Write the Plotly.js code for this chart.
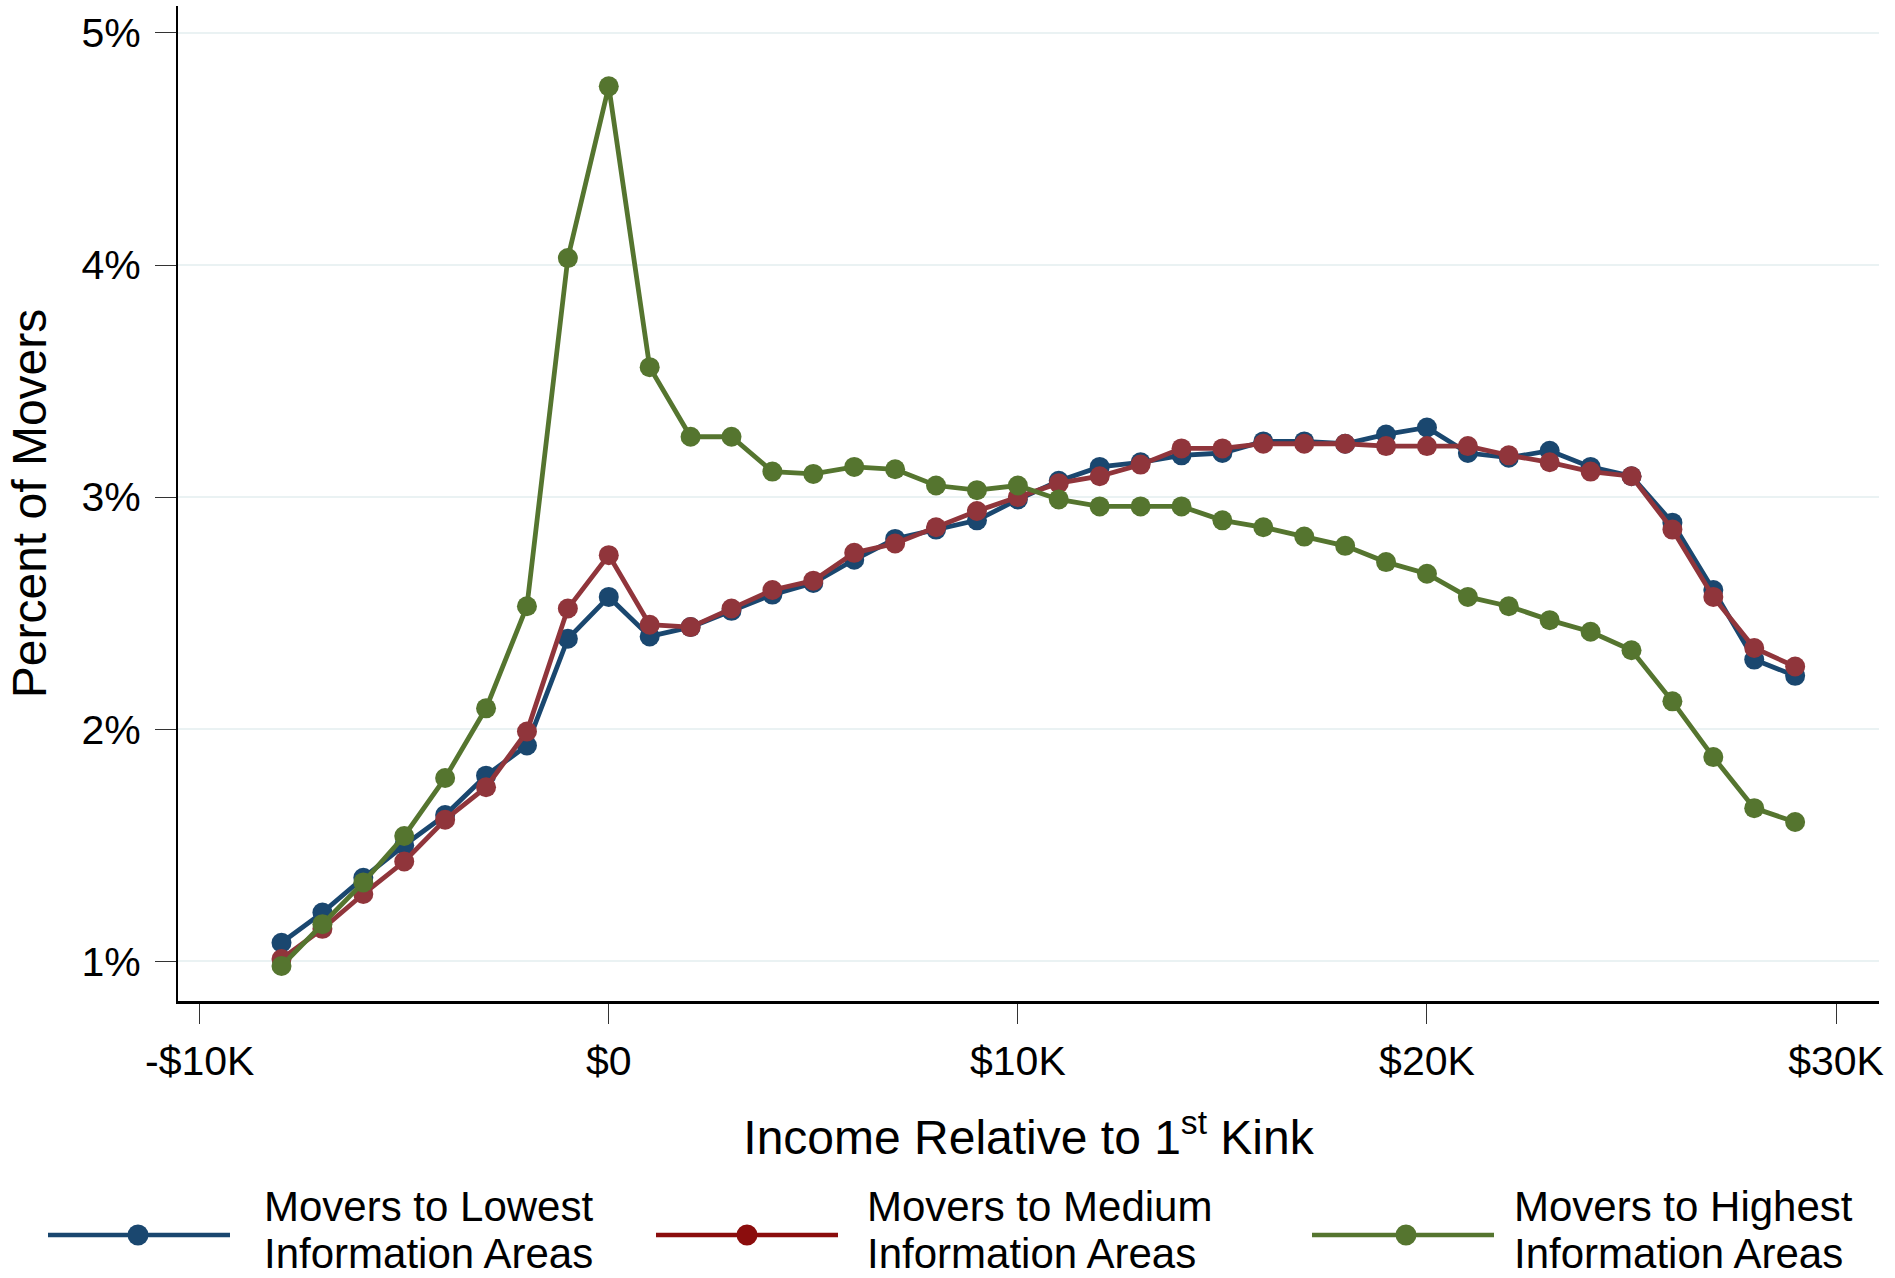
<!DOCTYPE html>
<html>
<head>
<meta charset="utf-8">
<script src="https://cdn.plot.ly/plotly-3.0.1.min.js"></script>
<style>
  html, body { margin: 0; padding: 0; background: #ffffff; }
  #chart { width: 1895px; height: 1278px; }
</style>
</head>
<body>
<div id="chart"></div>
<script>
// ---- data (income relative to 1st kink, in $K; percent of movers) ----
const incomeK = [-8,-7,-6,-5,-4,-3,-2,-1,0,1,2,3,4,5,6,7,8,9,10,11,12,13,14,15,16,17,18,19,20,21,22,23,24,25,26,27,28,29];

const lowest = [1.08,1.21,1.36,1.50,1.63,1.80,1.93,2.39,2.57,2.40,2.44,2.51,2.58,2.63,2.73,2.82,2.86,2.90,2.99,3.07,3.13,3.15,3.18,3.19,3.24,3.24,3.23,3.27,3.30,3.19,3.17,3.20,3.13,3.09,2.89,2.60,2.30,2.23];

const medium = [1.01,1.14,1.29,1.43,1.61,1.75,1.99,2.52,2.75,2.45,2.44,2.52,2.60,2.64,2.76,2.80,2.87,2.94,3.00,3.06,3.09,3.14,3.21,3.21,3.23,3.23,3.23,3.22,3.22,3.22,3.18,3.15,3.11,3.09,2.86,2.57,2.35,2.27];

const highest = [0.98,1.16,1.34,1.54,1.79,2.09,2.53,4.03,4.77,3.56,3.26,3.26,3.11,3.10,3.13,3.12,3.05,3.03,3.05,2.99,2.96,2.96,2.96,2.90,2.87,2.83,2.79,2.72,2.67,2.57,2.53,2.47,2.42,2.34,2.12,1.88,1.66,1.60];

const seriesLine1 = ["Movers to Lowest", "Movers to Medium", "Movers to Highest"];
const seriesLine2 = ["Information Areas", "Information Areas", "Information Areas"];
const xTickVals = [-10, 0, 10, 20, 30];
const xTickText = ["-$10K", "$0", "$10K", "$20K", "$30K"];
const yTickVals = [1, 2, 3, 4, 5];
const yTickText = ["1%", "2%", "3%", "4%", "5%"];

// ---- style ----
const colors = ["#1a476f", "#90353b", "#55752f"];
const legendColors = ["#1a476f", "#8b0d0d", "#55752f"];
const FONT = "'Liberation Sans', Arial, Helvetica, sans-serif";

const W = 1895, H = 1278;
const M = { l: 178, r: 16, t: 6, b: 277 };
const PW = W - M.l - M.r, PH = H - M.t - M.b;
const px2paper = x => (x - M.l) / PW;
const py2paper = y => (H - M.b - y) / PH;

const allSeries = [lowest, medium, highest];
const traces = allSeries.map((ys, i) => ({
  type: "scatter",
  mode: "lines+markers",
  x: incomeK,
  y: ys,
  name: seriesLine1[i] + " " + seriesLine2[i],
  line: { color: colors[i], width: 4.8 },
  marker: { color: colors[i], size: 20, line: { width: 0 } },
  showlegend: false,
  hoverinfo: "x+y"
}));

// ---- manual legend (lines, markers, labels) ----
const legendItems = [
  { x0: 48, x1: 230, xm: 138, tx: 262 },
  { x0: 656, x1: 838, xm: 747, tx: 865 },
  { x0: 1312, x1: 1494, xm: 1406, tx: 1512 }
];
const legY = 1235;
const shapes = [];
const annotations = [];
legendItems.forEach((it, i) => {
  shapes.push({
    type: "line", xref: "paper", yref: "paper",
    x0: px2paper(it.x0), x1: px2paper(it.x1),
    y0: py2paper(legY), y1: py2paper(legY),
    line: { color: legendColors[i], width: 4.5 }
  });
  const r = 10.5;
  shapes.push({
    type: "circle", xref: "paper", yref: "paper",
    x0: px2paper(it.xm - r), x1: px2paper(it.xm + r),
    y0: py2paper(legY + r), y1: py2paper(legY - r),
    fillcolor: legendColors[i], line: { width: 0 }
  });
  annotations.push({
    xref: "paper", yref: "paper",
    x: px2paper(it.tx), y: py2paper(1206),
    xanchor: "left", yanchor: "middle", align: "left",
    showarrow: false,
    text: seriesLine1[i],
    font: { family: FONT, size: 42, color: "#000000" }
  });
  annotations.push({
    xref: "paper", yref: "paper",
    x: px2paper(it.tx), y: py2paper(1253),
    xanchor: "left", yanchor: "middle", align: "left",
    showarrow: false,
    text: seriesLine2[i],
    font: { family: FONT, size: 42, color: "#000000" }
  });
});

const layout = {
  width: W, height: H,
  margin: M,
  paper_bgcolor: "#ffffff",
  plot_bgcolor: "#ffffff",
  font: { family: FONT, color: "#000000" },
  showlegend: false,
  xaxis: {
    range: [-10.53, 31.05],
    tickvals: xTickVals, ticktext: xTickText,
    ticks: "outside", ticklen: 20, tickwidth: 1.2, tickcolor: "#333333",
    tickfont: { family: FONT, size: 41, color: "#000000" },
    ticklabelstandoff: 2,
    showgrid: false, zeroline: false,
    showline: true, linecolor: "#000000", linewidth: 3,
    title: { text: "Income Relative to 1<sup>st</sup> Kink", font: { family: FONT, size: 48, color: "#000000" }, standoff: 38 },
    automargin: false
  },
  yaxis: {
    range: [0.829, 5.116],
    tickvals: yTickVals, ticktext: yTickText,
    ticks: "outside", ticklen: 21, tickwidth: 1.2, tickcolor: "#333333",
    tickfont: { family: FONT, size: 41, color: "#000000" },
    ticklabelstandoff: 6,
    showgrid: true, gridcolor: "#eaf2f3", gridwidth: 1.5,
    zeroline: false,
    showline: true, linecolor: "#000000", linewidth: 2,
    title: { text: "Percent of Movers", font: { family: FONT, size: 48, color: "#000000" }, standoff: 20 },
    automargin: false
  },
  shapes: shapes,
  annotations: annotations
};

Plotly.newPlot("chart", traces, layout, { displayModeBar: false, responsive: false });
</script>
</body>
</html>
